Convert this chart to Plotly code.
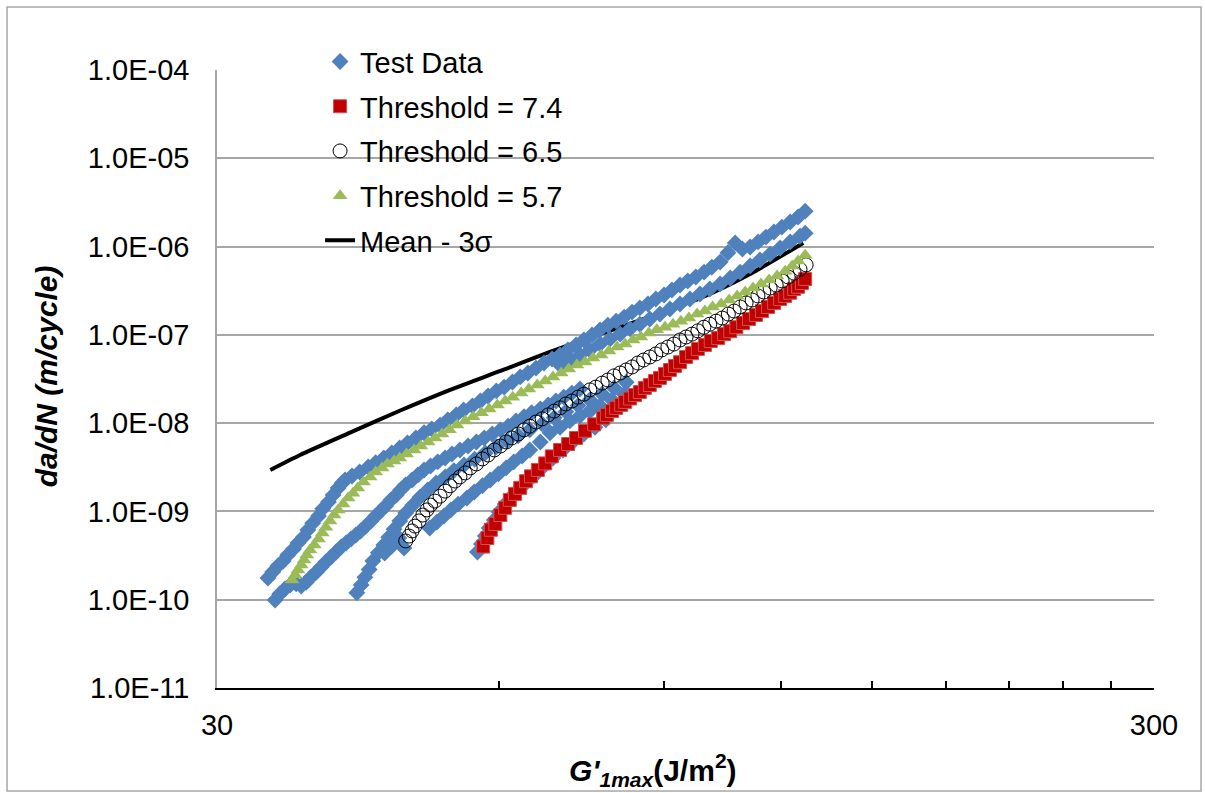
import plotly.graph_objects as go

# ---------------- data ----------------
# Mean - 3 sigma curve
mean3s_G = [34.2, 36.8, 41.6, 47.0, 53.2, 60.2, 68.0, 76.9, 86.9, 98.3, 111.2, 126.7]
mean3s_rate = [2.95e-9, 4.36e-9, 7.8e-9, 1.38e-8, 2.38e-8, 3.9e-8, 6.4e-8, 1.02e-7,
               1.6e-7, 2.6e-7, 4.9e-7, 1.1e-6]

# Threshold = 7.4
th74_G = [57.7, 58.3, 58.8, 59.45, 60.2, 60.9, 61.6, 62.4, 63.2, 64.1, 64.9, 66.0, 67.2,
          68.3, 69.7, 71.1, 72.5, 74.1, 75.8, 77.5, 78.2, 79.2, 80.0, 81.0, 81.8, 82.8,
          83.8, 84.8, 85.85, 86.9, 88.0, 89.1, 90.2, 91.3, 92.45, 93.6, 95.0, 96.4, 97.8,
          99.5, 100.95, 102.8, 104.3, 105.9, 107.5, 109.3, 110.9, 112.8, 114.5, 116.2,
          117.95, 119.7, 121.2, 122.7, 123.9, 125.1, 126.3, 127.3]
th74_rate = [4.0e-10, 5.0e-10, 6.2e-10, 7.2e-10, 9.1e-10, 1.1e-9, 1.35e-9, 1.58e-9, 1.85e-9,
             2.2e-9, 2.5e-9, 2.95e-9, 3.5e-9, 4.2e-9, 4.97e-9, 5.8e-9, 6.8e-9, 8.2e-9, 9.7e-9,
             1.15e-8, 1.24e-8, 1.37e-8, 1.49e-8, 1.61e-8, 1.74e-8, 1.9e-8, 2.08e-8, 2.25e-8,
             2.51e-8, 2.7e-8, 3.0e-8, 3.25e-8, 3.61e-8, 4.0e-8, 4.44e-8, 4.9e-8, 5.62e-8,
             6.2e-8, 6.93e-8, 7.67e-8, 8.52e-8, 9.2e-8, 1.02e-7, 1.1e-7, 1.22e-7, 1.36e-7,
             1.51e-7, 1.68e-7, 1.86e-7, 2.07e-7, 2.3e-7, 2.55e-7, 2.76e-7, 3.0e-7, 3.31e-7,
             3.5e-7, 3.87e-7, 4.3e-7]

# Threshold = 6.5
th65_G = [47.7, 48.1, 48.45, 48.8, 49.3, 49.75, 50.25, 50.7, 51.25, 51.9, 52.55, 53.2,
          53.85, 54.5, 55.2, 55.9, 56.75, 57.6, 58.4, 59.3, 60.2, 61.05, 61.9, 62.9, 63.8,
          64.7, 65.7, 66.7, 67.7, 68.7, 69.7, 70.7, 71.75, 72.85, 73.9, 75.0, 76.1, 77.3,
          78.4, 79.6, 80.8, 82.0, 83.2, 84.4, 85.6, 86.9, 88.2, 89.5, 90.85, 92.2, 93.6,
          95.0, 96.4, 97.8, 99.25, 100.7, 102.25, 103.8, 105.4, 106.9, 108.5, 110.1,
          111.75, 113.35, 115.0, 116.8, 118.55, 120.3, 122.1, 123.9, 125.7, 127.6]
th65_rate = [4.63e-10, 5.26e-10, 6.01e-10, 6.82e-10, 7.8e-10, 9.1e-10, 1.04e-9, 1.18e-9,
             1.31e-9, 1.49e-9, 1.7e-9, 1.95e-9, 2.21e-9, 2.46e-9, 2.73e-9, 3.11e-9, 3.45e-9,
             3.93e-9, 4.36e-9, 4.97e-9, 5.51e-9, 6.12e-9, 6.8e-9, 7.54e-9, 8.4e-9, 9.25e-9,
             1.03e-8, 1.12e-8, 1.24e-8, 1.37e-8, 1.49e-8, 1.65e-8, 1.78e-8, 1.97e-8, 2.13e-8,
             2.38e-8, 2.56e-8, 2.84e-8, 3.08e-8, 3.43e-8, 3.7e-8, 4.0e-8, 4.33e-8, 4.8e-8,
             5.19e-8, 5.62e-8, 6.08e-8, 6.75e-8, 7.28e-8, 7.87e-8, 8.75e-8, 9.46e-8, 1.02e-7,
             1.11e-7, 1.22e-7, 1.32e-7, 1.43e-7, 1.55e-7, 1.72e-7, 1.86e-7, 2.07e-7, 2.3e-7,
             2.48e-7, 2.76e-7, 3.06e-7, 3.39e-7, 3.67e-7, 4.08e-7, 4.52e-7, 5.0e-7, 5.54e-7,
             6.2e-7]

# Threshold = 5.7
th57_G = [36.08, 36.35, 36.6, 36.9, 37.15, 37.4, 37.7, 38.1, 38.5, 38.85, 39.2, 39.6, 40.0,
          40.4, 40.9, 41.4, 41.9, 42.4, 43.0, 43.7, 44.3, 45.0, 45.6, 46.35, 47.0, 47.8,
          48.7, 49.5, 50.4, 51.25, 52.15, 53.1, 54.1, 55.2, 56.3, 57.45, 58.55, 59.75, 60.9,
          62.05, 63.35, 64.55, 65.9, 67.2, 68.5, 69.9, 71.2, 72.65, 74.1, 75.55, 77.1, 78.6,
          80.2, 81.8, 83.4, 85.0, 86.7, 88.4, 90.2, 92.0, 93.8, 95.65, 97.6, 99.5, 101.4,
          103.55, 105.6, 107.7, 109.85, 112.0, 114.2, 116.5, 118.8, 121.2, 123.3, 125.1, 127.3]
th57_rate = [1.67e-10, 1.91e-10, 2.17e-10, 2.48e-10, 2.82e-10, 3.21e-10, 3.66e-10, 4.17e-10,
             4.88e-10, 5.69e-10, 6.64e-10, 7.8e-10, 9.1e-10, 1.04e-9, 1.21e-9, 1.42e-9,
             1.61e-9, 1.84e-9, 2.15e-9, 2.46e-9, 2.8e-9, 3.11e-9, 3.45e-9, 3.73e-9, 4.03e-9,
             4.47e-9, 4.97e-9, 5.51e-9, 6.12e-9, 6.8e-9, 7.54e-9, 8.4e-9, 9.5e-9, 1.06e-8,
             1.18e-8, 1.31e-8, 1.45e-8, 1.61e-8, 1.78e-8, 1.97e-8, 2.19e-8, 2.44e-8, 2.7e-8,
             3.0e-8, 3.34e-8, 3.7e-8, 4.1e-8, 4.56e-8, 4.93e-8, 5.47e-8, 5.92e-8, 6.57e-8,
             7.28e-8, 7.87e-8, 8.75e-8, 9.46e-8, 1.05e-7, 1.14e-7, 1.22e-7, 1.32e-7, 1.43e-7,
             1.55e-7, 1.72e-7, 1.86e-7, 2.07e-7, 2.24e-7, 2.48e-7, 2.76e-7, 3.06e-7, 3.39e-7,
             3.77e-7, 4.19e-7, 4.64e-7, 5.26e-7, 6.04e-7, 6.87e-7, 8.0e-7]

# Test data (several specimens)
test_G = [
    # upper specimen
    41.1, 41.8, 42.6, 43.5, 44.3, 45.2, 46.1, 47.0, 47.9, 48.9, 49.9, 50.85, 51.9, 52.9,
    54.0, 55.0, 56.2, 57.3, 58.4, 59.6, 60.75, 62.0, 63.2, 64.4, 65.7, 67.0, 68.35, 69.7,
    71.05, 72.5, 73.9, 75.4, 76.9, 78.4, 80.0, 81.6, 83.2, 84.8, 86.5, 88.2, 90.0, 91.75,
    93.6, 95.4, 97.3, 99.3, 101.2, 103.3, 105.3, 107.2, 109.1, 111.2, 113.4, 115.6, 117.9,
    120.2, 122.7, 125.1, 127.3,
    # second specimen above the 5.7 curve
    69.7, 71.4, 73.2, 75.0, 76.9, 78.8, 80.8, 82.8, 84.8, 86.9, 89.1, 91.3, 93.6, 95.9,
    98.3, 100.7, 103.3, 105.9, 108.5, 111.2, 113.9, 116.8, 119.7, 122.7, 125.7, 127.3,
    # left specimen, upper
    34.0, 34.4, 34.85, 35.3, 35.7, 36.2, 36.6, 37.1, 37.5, 37.95, 38.5, 38.9, 39.45, 39.9,
    40.4, 40.8,
    # left specimen, lower
    34.6, 35.0, 35.45, 35.9, 36.45, 36.9, 37.35, 37.8, 38.3, 38.75, 39.2, 39.7, 40.2, 40.7,
    41.2, 41.7, 42.2, 42.7, 43.25, 43.8, 44.3, 44.85, 45.4, 46.0, 46.6, 47.1, 47.7, 48.45,
    49.15, 49.9, 50.7, 51.6, 52.55, 53.45, 54.5, 55.6, 56.75, 57.85, 59.0, 60.2, 61.35,
    62.55, 63.8, 65.0, 66.4, 67.7, 69.0, 70.35, 71.75, 73.2,
    # middle specimen
    42.3, 42.75, 43.15, 43.6, 44.0, 44.6, 45.2, 45.75, 46.35, 47.0, 47.7, 48.55, 49.4, 50.35,
    51.4, 52.55, 53.7, 55.05, 56.5, 58.0, 59.6, 61.2, 62.9, 64.7, 66.7, 68.7, 70.7, 72.85,
    75.0, 77.3, 79.6, 82.0,
    # right-lower specimen
    56.9, 57.45, 58.0, 58.55, 59.3, 60.0, 60.9, 61.9, 63.05, 64.25, 65.55, 67.0, 68.5,
    70.2, 71.9, 73.9, 75.95, 78.0,
    # specimen between the 6.5 and 7.4 curves
    45.3, 46.1, 46.9, 47.5, 50.6, 51.5, 52.4, 53.3, 54.25, 55.45, 56.45, 57.6, 58.7, 59.9,
    61.05, 62.2, 63.5, 64.7, 66.4, 68.0, 69.7, 71.4, 73.2, 75.0, 76.9, 79.2, 81.6,
]
test_rate = [
    2.27e-9, 2.52e-9, 2.8e-9, 3.18e-9, 3.56e-9, 4.03e-9, 4.6e-9, 5.24e-9, 5.97e-9, 6.8e-9,
    7.77e-9, 8.6e-9, 9.5e-9, 1.09e-8, 1.24e-8, 1.41e-8, 1.57e-8, 1.78e-8, 2.03e-8, 2.32e-8,
    2.56e-8, 2.92e-8, 3.34e-8, 3.7e-8, 4.2e-8, 4.8e-8, 5.33e-8, 5.92e-8, 6.75e-8, 7.67e-8,
    8.75e-8, 9.97e-8, 1.14e-7, 1.29e-7, 1.43e-7, 1.59e-7, 1.81e-7, 2.02e-7, 2.24e-7,
    2.55e-7, 2.83e-7, 3.22e-7, 3.67e-7, 4.08e-7, 4.52e-7, 5.13e-7, 5.84e-7, 6.67e-7,
    8.5e-7, 1.1e-6, 9.4e-7, 9.9e-7, 1.13e-6, 1.28e-6, 1.46e-6, 1.66e-6, 1.9e-6, 2.16e-6,
    2.52e-6,
    4.56e-8, 5.19e-8, 5.92e-8, 6.75e-8, 7.87e-8, 8.98e-8, 1.02e-7, 1.17e-7, 1.32e-7,
    1.51e-7, 1.72e-7, 1.96e-7, 2.24e-7, 2.55e-7, 2.9e-7, 3.31e-7, 3.77e-7, 4.41e-7,
    5.13e-7, 6.04e-7, 7.05e-7, 8.21e-7, 9.64e-7, 1.13e-6, 1.31e-6, 1.42e-6,
    1.76e-10, 2.06e-10, 2.42e-10, 2.75e-10, 3.21e-10, 3.76e-10, 4.39e-10, 5.12e-10,
    6.17e-10, 7.37e-10, 8.86e-10, 1.07e-9, 1.28e-9, 1.53e-9, 1.84e-9, 2.1e-9,
    9.9e-11, 1.16e-10, 1.32e-10, 1.47e-10, 1.51e-10, 1.43e-10, 1.58e-10, 1.81e-10,
    2.06e-10, 2.35e-10, 2.68e-10, 3.05e-10, 3.47e-10, 3.96e-10, 4.39e-10, 4.88e-10,
    5.4e-10, 6.01e-10, 6.82e-10, 7.8e-10, 8.86e-10, 1.01e-9, 1.15e-9, 1.35e-9, 1.53e-9,
    1.75e-9, 2.0e-9, 2.27e-9, 2.59e-9, 2.95e-9, 3.27e-9, 3.64e-9, 4.03e-9, 4.47e-9,
    4.97e-9, 5.51e-9, 6.12e-9, 6.8e-9, 7.54e-9, 8.4e-9, 9.25e-9, 1.06e-8, 1.18e-8,
    1.31e-8, 1.45e-8, 1.61e-8, 1.78e-8, 1.97e-8, 2.19e-8, 2.44e-8,
    1.2e-10, 1.47e-10, 1.8e-10, 2.2e-10, 2.75e-10, 3.4e-10, 4.17e-10, 5.1e-10, 6.3e-10,
    7.8e-10, 9.6e-10, 1.18e-9, 1.45e-9, 1.75e-9, 2.1e-9, 2.45e-9, 2.9e-9, 3.36e-9, 3.9e-9,
    4.6e-9, 5.4e-9, 6.3e-9, 7.2e-9, 8.4e-9, 9.8e-9, 1.15e-8, 1.35e-8, 1.58e-8, 1.83e-8,
    2.14e-8, 2.5e-8, 2.9e-8,
    3.47e-10, 4.28e-10, 5.26e-10, 6.47e-10, 8.0e-10, 9.87e-10, 1.21e-9, 1.49e-9, 1.8e-9,
    2.15e-9, 2.59e-9, 3.27e-9, 4.03e-9, 4.97e-9, 6.12e-9, 7.54e-9, 9.0e-9, 1.09e-8,
    3.38e-10, 4.06e-10, 5.0e-10, 3.86e-10, 6.5e-10, 7.6e-10, 8.86e-10, 1.04e-9, 1.21e-9,
    1.42e-9, 1.66e-9, 1.95e-9, 2.27e-9, 2.66e-9, 3.11e-9, 3.64e-9, 4.25e-9, 4.97e-9,
    6.12e-9, 7.77e-9, 9.0e-9, 1.06e-8, 1.21e-8, 1.37e-8, 1.57e-8, 1.83e-8, 2.13e-8,
]

y_tick_vals = [1e-11, 1e-10, 1e-9, 1e-8, 1e-7, 1e-6, 1e-5, 1e-4]
y_tick_text = ["1.0E-11", "1.0E-10", "1.0E-09", "1.0E-08", "1.0E-07", "1.0E-06",
               "1.0E-05", "1.0E-04"]
x_tick_vals = [30, 300]
x_tick_text = ["30", "300"]
x_minor_vals = [60, 90, 120, 150, 180, 210, 240, 270]

# ---------------- figure ----------------
FONT = "Liberation Sans, Arial, sans-serif"
fig = go.Figure()

# drawing order: line at the back, then test data, then model curves
fig.add_trace(go.Scatter(
    x=mean3s_G, y=mean3s_rate, mode="lines", name="Mean - 3σ",
    line=dict(color="black", width=4, shape="spline", smoothing=0.6),
    legendgroup="e", legendrank=5))
fig.add_trace(go.Scatter(
    x=test_G, y=test_rate, mode="markers", name="Test Data",
    marker=dict(symbol="diamond", size=13, color="#4F81BD", line=dict(width=0)),
    legendgroup="a", legendrank=1))
fig.add_trace(go.Scatter(
    x=th74_G, y=th74_rate, mode="markers", name="Threshold = 7.4",
    marker=dict(symbol="square", size=13, color="#C00000",
                line=dict(width=1, color="#D25050")),
    legendgroup="b", legendrank=2))
fig.add_trace(go.Scatter(
    x=th65_G, y=th65_rate, mode="markers", name="Threshold = 6.5",
    marker=dict(symbol="circle", size=14, color="rgba(255,255,255,0)",
                line=dict(width=1, color="black")),
    legendgroup="c", legendrank=3))
fig.add_trace(go.Scatter(
    x=th57_G, y=th57_rate, mode="markers", name="Threshold = 5.7",
    marker=dict(symbol="triangle-up", size=13, color="#9BBB59", line=dict(width=0)),
    legendgroup="d", legendrank=4))

fig.update_layout(
    width=1205, height=793,
    margin=dict(l=217, r=51, t=70, b=105),
    paper_bgcolor="white", plot_bgcolor="white",
    font=dict(family=FONT, size=29, color="black"),
    showlegend=True,
    legend=dict(x=0.11, y=1.0547, xanchor="left", yanchor="top",
                bgcolor="rgba(0,0,0,0)", borderwidth=0,
                font=dict(family=FONT, size=29, color="black"),
                traceorder="grouped", tracegroupgap=4),
    xaxis=dict(type="log", range=[1.4771213, 2.4771213],
               tickvals=x_tick_vals, ticktext=x_tick_text,
               ticks="inside", ticklen=7, tickwidth=1.5, tickcolor="black",
               showline=True, linecolor="black", linewidth=2,
               showgrid=False, zeroline=False,
               ticklabelstandoff=10,
               minor=dict(tickvals=x_minor_vals, ticks="inside", ticklen=7,
                          tickwidth=1.5, tickcolor="black", showgrid=False),
               tickfont=dict(size=29)),
    yaxis=dict(type="log", range=[-11, -4],
               tickvals=y_tick_vals, ticktext=y_tick_text,
               ticks="", showline=True, linecolor="#A6A6A6", linewidth=1.5,
               showgrid=True, gridcolor="#A6A6A6", gridwidth=1.5,
               zeroline=False, ticklabelstandoff=20,
               tickfont=dict(size=29)),
)

# axis titles as annotations
fig.add_annotation(
    xref="paper", yref="paper", x=0.4653, y=-0.133, xanchor="center", yanchor="middle",
    showarrow=False,
    text="<b><i>G'</i></b><sub><b><i>1max</i></b></sub><b>(J/m<sup>2</sup>)</b>",
    font=dict(family=FONT, size=30, color="black"))
fig.add_annotation(
    xref="paper", yref="paper", x=-0.181, y=0.505, xanchor="center", yanchor="middle",
    showarrow=False, textangle=-90,
    text="<b><i>da/dN (m/cycle)</i></b>",
    font=dict(family=FONT, size=30, color="black"))

# chart-area border
fig.add_shape(type="rect", xref="paper", yref="paper",
              x0=-0.2241, x1=1.0502, y0=-0.1667, y1=1.1019,
              line=dict(color="#A6A6A6", width=1.5), layer="below")

fig.write_html("out.html")
